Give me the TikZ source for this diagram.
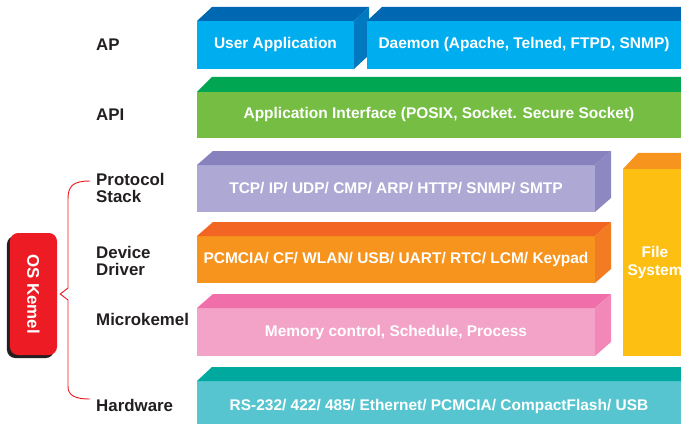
\documentclass[tikz,border=0pt]{standalone}
\usepackage{fontspec}
\usepackage{graphicx}
\setmainfont{Liberation Sans}
\definecolor{apFront}{HTML}{00AEEF}
\definecolor{apTop}{HTML}{0068B3}
\definecolor{apSide}{HTML}{0079C1}
\definecolor{apiFront}{HTML}{76BE43}
\definecolor{apiTop}{HTML}{00A651}
\definecolor{stackFront}{HTML}{ADA9D4}
\definecolor{stackTop}{HTML}{8781BD}
\definecolor{stackSide}{HTML}{8E88C2}
\definecolor{driverFront}{HTML}{F7941D}
\definecolor{driverTop}{HTML}{F26522}
\definecolor{driverSide}{HTML}{F37B21}
\definecolor{microFront}{HTML}{F3A3C8}
\definecolor{microTop}{HTML}{F06FAA}
\definecolor{microSide}{HTML}{F288B8}
\definecolor{hwFront}{HTML}{56C5D0}
\definecolor{hwTop}{HTML}{00A99D}
\definecolor{fsFront}{HTML}{FDBF12}
\definecolor{fsTop}{HTML}{F7941D}
\definecolor{kernRed}{HTML}{ED1C24}
\definecolor{kernShadow}{HTML}{231F20}
\definecolor{labelBlack}{HTML}{231F20}

\begin{document}
\begin{tikzpicture}[x=0.03cm,y=-0.03cm,
    layer/.style={text=white,font=\fontsize{13.2}{15}\selectfont\bfseries,inner sep=0pt,outer sep=0pt,align=center},
    sidetext/.style={anchor=west,text=labelBlack,font=\fontsize{14.4}{15}\selectfont\bfseries,inner sep=0pt,align=left},
    kernbox/.style={rounded corners=7pt,minimum width=1.41cm,minimum height=3.66cm,inner sep=0pt,text=white,font=\fontsize{14.4}{15}\selectfont\bfseries}]
  \useasboundingbox (0,0) rectangle (681,423);

  % AP
  \node[layer,fill=apFront,minimum width=4.71cm,minimum height=1.44cm] (ua) at (275.5,45) {User Application};
  \fill[apTop] (ua.north west) -- ++(15,-14) -- ([shift={(15,-14)}]ua.north east) -- (ua.north east) -- cycle;
  \fill[apSide] (ua.north east) -- ++(15,-14) -- ([shift={(15,-14)}]ua.south east) -- (ua.south east) -- cycle;
  \node[layer,fill=apFront,minimum width=9.42cm,minimum height=1.44cm] (dm) at (524,45) {Daemon (Apache, Telned, FTPD, SNMP)};
  \fill[apTop] (dm.north west) -- ++(15,-14) -- ([shift={(15,-14)}]dm.north east) -- (dm.north east) -- cycle;

  % API
  \node[layer,fill=apiFront,minimum width=14.52cm,minimum height=1.38cm] (api) at (439,115) {Application Interface (POSIX, Socket. Secure Socket)};
  \fill[apiTop] (api.north west) -- ++(15,-15) -- ([shift={(15,-15)}]api.north east) -- (api.north east) -- cycle;

  % Protocol stack
  \node[layer,fill=stackFront,minimum width=11.94cm,minimum height=1.41cm] (tcp) at (396,188.5) {TCP/ IP/ UDP/ CMP/ ARP/ HTTP/ SNMP/ SMTP};
  \fill[stackTop] (tcp.north west) -- ++(16,-14) -- ([shift={(16,-14)}]tcp.north east) -- (tcp.north east) -- cycle;
  \fill[stackSide] (tcp.north east) -- ++(16,-14) -- ([shift={(16,-14)}]tcp.south east) -- (tcp.south east) -- cycle;

  % Device driver
  \node[layer,fill=driverFront,minimum width=11.94cm,minimum height=1.41cm] (drv) at (396,259.5) {PCMCIA/ CF/ WLAN/ USB/ UART/ RTC/ LCM/ Keypad};
  \fill[driverTop] (drv.north west) -- ++(16,-14) -- ([shift={(16,-14)}]drv.north east) -- (drv.north east) -- cycle;
  \fill[driverSide] (drv.north east) -- ++(16,-14) -- ([shift={(16,-14)}]drv.south east) -- (drv.south east) -- cycle;

  % Microkernel
  \node[layer,fill=microFront,minimum width=11.94cm,minimum height=1.44cm] (mk) at (396,332) {Memory control, Schedule, Process};
  \fill[microTop] (mk.north west) -- ++(16,-14) -- ([shift={(16,-14)}]mk.north east) -- (mk.north east) -- cycle;
  \fill[microSide] (mk.north east) -- ++(16,-14) -- ([shift={(16,-14)}]mk.south east) -- (mk.south east) -- cycle;

  % File system
  \node[layer,fill=fsFront,minimum width=1.92cm,minimum height=5.61cm] (fs) at (655,262.5) {File\\System};
  \fill[fsTop] (fs.north west) -- ++(15,-16) -- ([shift={(15,-16)}]fs.north east) -- (fs.north east) -- cycle;

  % Hardware
  \node[layer,fill=hwFront,minimum width=14.52cm,minimum height=1.5cm] (hw) at (439,406) {RS-232/ 422/ 485/ Ethernet/ PCMCIA/ CompactFlash/ USB};
  \fill[hwTop] (hw.north west) -- ++(15,-14) -- ([shift={(15,-14)}]hw.north east) -- (hw.north east) -- cycle;

  % Layer names
  \node[sidetext] (lap) at (96,45) {AP};
  \node[sidetext] (lapi) at (96,115) {API};
  \node[sidetext] (lps) at (96,188) {Protocol\\Stack};
  \node[sidetext] (ldd) at (96,261) {Device\\Driver};
  \node[sidetext] (lmk) at (96,319) {Microkemel};
  \node[sidetext] (lhw) at (96,405) {Hardware};

  % OS kernel
  \node[kernbox,fill=kernShadow] (kshadow) at (30.5,297) {};
  \node[kernbox,fill=kernRed] (kern) at (33.5,294) {\rotatebox{-90}{OS Kemel}};
  \coordinate (bTop) at (90,181);
  \coordinate (bBot) at (90,399);
  \draw[kernRed,line width=0.8pt] (bTop) .. controls (73,181) and (68,186) .. (68,199) -- (68,288) -- ([xshift=0.09cm]kern.east) -- (68,300) -- (68,386) .. controls (68,395) and (74,399) .. (bBot);
\end{tikzpicture}
\end{document}
